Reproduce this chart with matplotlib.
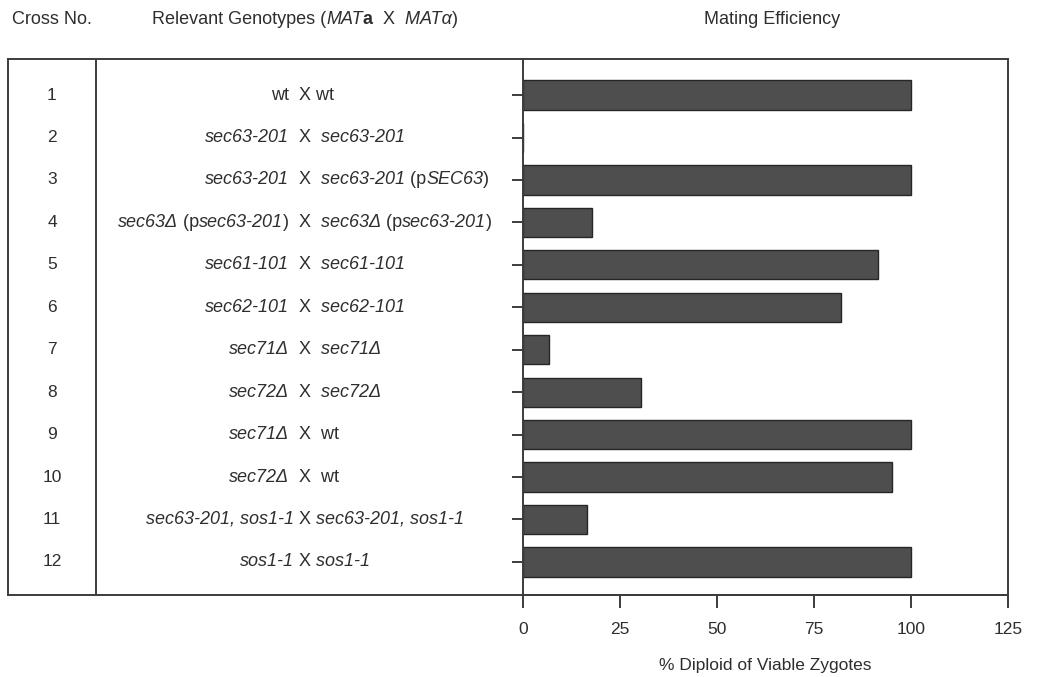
import re
import matplotlib
matplotlib.use("Agg")
import matplotlib.pyplot as plt
from matplotlib.transforms import blended_transform_factory

plt.rcParams['font.family'] = ['Liberation Sans', 'DejaVu Sans']

# data
crosses = list(range(1, 13))
efficiency = [100, 0, 100, 17.7, 91.5, 82, 6.7, 30.3, 100, 95.1, 16.5, 100]
# _text_ = italic
genotypes = [
    "wt  X wt",
    "_sec63-201_  X  _sec63-201_",
    "_sec63-201_  X  _sec63-201_ (p_SEC63_)",
    "_sec63Δ_ (p_sec63-201_)  X  _sec63Δ_ (p_sec63-201_)",
    "_sec61-101_  X  _sec61-101_",
    "_sec62-101_  X  _sec62-101_",
    "_sec71Δ_  X  _sec71Δ_",
    "_sec72Δ_  X  _sec72Δ_",
    "_sec71Δ_  X  wt",
    "_sec72Δ_  X  wt",
    "_sec63-201, sos1-1_ X _sec63-201, sos1-1_",
    "_sos1-1_ X _sos1-1_",
]
xticks = [0, 25, 50, 75, 100, 125]

W, H = 1037, 677
text_c = '#2e2e2e'
line_c = '#3c3c3c'
fs = 13

fig = plt.figure(figsize=(W / 100, H / 100), dpi=100)


def px_box(x0, y0, x1, y1):
    return [x0 / W, 1 - y1 / H, (x1 - x0) / W, (y1 - y0) / H]


# outer frame with the column divider
bg = fig.add_axes(px_box(8, 59, 1008, 595))
bg.set_xlim(8, 1008)
bg.set_ylim(0, 1)
bg.set_xticks([])
bg.set_yticks([])
for s in bg.spines.values():
    s.set_color(line_c)
    s.set_linewidth(1.4)
bg.axvline(96, color=line_c, lw=1.4)

ax = fig.add_axes(px_box(523, 59, 1008, 595))
ax.patch.set_visible(False)
ax.barh(crosses, efficiency, height=0.69, color='#4e4e4e', edgecolor='#262626', lw=1)
ax.set_xlim(0, 125)
ax.set_ylim(12.78, 0.15)
ax.set_xticks(xticks)
ax.set_yticks(crosses)
ax.set_yticklabels([])
ax.spines['top'].set_visible(False)
ax.spines['right'].set_visible(False)
for s in ['left', 'bottom']:
    ax.spines[s].set_color(line_c)
    ax.spines[s].set_linewidth(1.4)
ax.tick_params(axis='y', length=8, width=1.4, color=line_c)
ax.tick_params(axis='x', length=9.5, width=1.4, color=line_c, pad=10,
               labelsize=12.5, labelcolor=text_c)
ax.set_xlabel("% Diploid of Viable Zygotes", fontsize=12.5, labelpad=15, color=text_c)

trans = blended_transform_factory(fig.transFigure, ax.transData)
for c in crosses:
    ax.text(52 / W, c, str(c), transform=trans, ha='center', va='center',
            fontsize=12.5, color=text_c)


def parse(s):
    out = []
    for i, seg in enumerate(s.split('_')):
        if seg:
            out.append((seg, 'italic' if i % 2 else 'normal'))
    return out


def chain(pieces, x, y, transform, weights=None):
    texts = []
    for i, (s, style) in enumerate(pieces):
        w = weights[i] if weights else 'normal'
        if not texts:
            t = fig.text(x, y, s, transform=transform, ha='left', va='center',
                         fontsize=fs, fontstyle=style, fontweight=w, color=text_c)
        else:
            t = fig.add_artist(matplotlib.text.Annotation(
                s, xy=(1, 0), xycoords=texts[-1], ha='left', va='bottom',
                fontsize=fs, fontstyle=style, fontweight=w, color=text_c))
        texts.append(t)
    return texts


renderer = fig.canvas.get_renderer()
x_right = 311  # right edge of the "X" in pixels
for c, g in zip(crosses, genotypes):
    m = re.search(r' +X +', g)
    left, right = g[:m.start()], g[m.end():]
    nl = len(m.group()) - len(m.group().lstrip())
    nr = len(m.group()) - len(m.group().rstrip())
    pieces = parse(left) + [(' ' * nl + 'X', 'normal')]
    rp = parse(right)
    rp[0] = (' ' * nr + rp[0][0], rp[0][1])
    pieces += rp
    texts = chain(pieces, 0, c, trans)
    xi = len(parse(left))
    bb = texts[xi].get_window_extent(renderer)
    texts[0].set_x((x_right - bb.x1) / W)

# headers
hy = 1 - 20 / H
fig.text(12 / W, hy, "Cross No.", ha='left', va='center', fontsize=fs, color=text_c)
fig.text(772 / W, hy, "Mating Efficiency", ha='center', va='center', fontsize=fs, color=text_c)
title = [("Relevant Genotypes (", 'normal'), ("MAT", 'italic'), ("a", 'normal'),
         ("  X", 'normal'), ("  MATα", 'italic'), (")", 'normal')]
chain(title, 152 / W, hy, fig.transFigure,
      weights=['normal', 'normal', 'bold', 'normal', 'normal', 'normal'])

fig.savefig("out.png", dpi=100)
